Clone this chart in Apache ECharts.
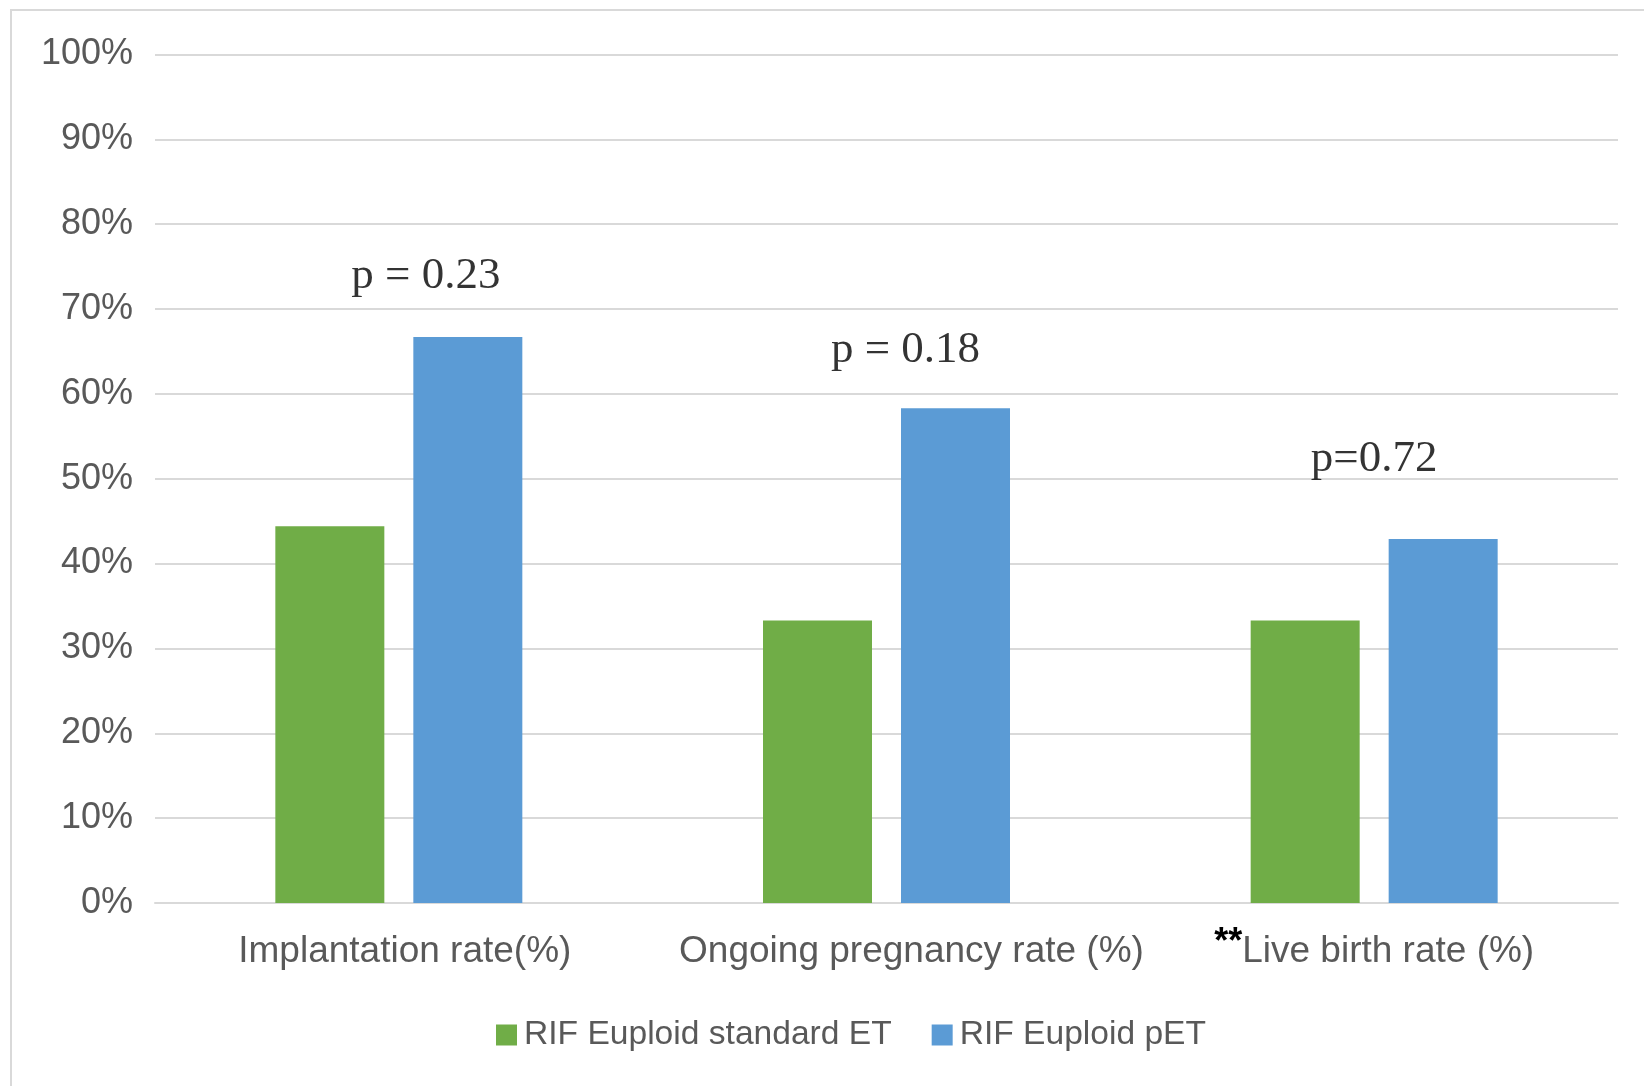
<!DOCTYPE html>
<html>
<head>
<meta charset="utf-8">
<script src="https://cdn.jsdelivr.net/npm/echarts@6/dist/echarts.min.js"></script>
<style>
html,body{margin:0;padding:0;background:#fff;}
#main{width:1644px;height:1086px;}
</style>
</head>
<body>
<div id="main"></div>
<script>
// ---- data ----
var categories = ['Implantation rate(%)', 'Ongoing pregnancy rate (%)', 'Live birth rate (%)'];
var categoryPrefix = ['', '', '**'];
var seriesNames = ['RIF Euploid standard ET', 'RIF Euploid pET'];
var standardET = [44.4, 33.3, 33.3];
var pET = [66.7, 58.3, 42.9];
var pLabels = ['p = 0.23', 'p = 0.18', 'p=0.72'];
var pLabelLevel = [73.85, 65.15, 52.3];
var yTicks = [0, 10, 20, 30, 40, 50, 60, 70, 80, 90, 100];

var sans = 'Liberation Sans, Arial, sans-serif';
var serif = 'Liberation Serif, Times New Roman, serif';
var pOffsets = [27, 19, 0];
var catShift = [12, 50, 0]; // label nudges (px) as in the original layout

var chart = echarts.init(document.getElementById('main'));
var option = {
  backgroundColor: '#ffffff',
  animation: false,
  graphic: [{
    type: 'rect',
    shape: { x: 11, y: 10, width: 1700, height: 1200 },
    style: { fill: 'none', stroke: '#d9d9d9', lineWidth: 2 },
    silent: true,
    z: -10
  }],
  grid: { left: 155, right: 26, top: 54.4, bottom: 183, containLabel: false },
  legend: {
    data: seriesNames,
    left: 491,
    top: 1013,
    itemWidth: 21,
    itemHeight: 21,
    itemGap: 40,
    icon: 'rect',
    textStyle: { color: '#595959', fontSize: 33.6, fontFamily: sans, padding: [0, 0, 0, 2] }
  },
  xAxis: {
    type: 'category',
    data: categories.map(function (c, i) {
      var txt = categoryPrefix[i] ? '{sup|' + categoryPrefix[i] + '}{lbl|' + c + '}' : '{lbl|' + c + '}';
      return { value: txt, textStyle: { padding: [0, 0, 0, catShift[i]] } };
    }),
    axisLine: { show: true, lineStyle: { color: '#d9d9d9', width: 2 } },
    axisTick: { show: false },
    axisLabel: {
      margin: 29,
      interval: 0,
      rich: {
        lbl: { color: '#595959', fontSize: 37, fontFamily: sans, lineHeight: 40 },
        sup: { color: '#000000', fontSize: 36, fontFamily: sans, fontWeight: 'bold', lineHeight: 40, padding: [0, 0, 18, 0] }
      }
    }
  },
  yAxis: {
    type: 'value',
    min: yTicks[0],
    max: yTicks[yTicks.length - 1],
    interval: 10,
    axisLine: { show: false },
    axisTick: { show: false },
    axisLabel: { formatter: '{value}%', color: '#595959', fontSize: 36, fontFamily: sans, margin: 22 },
    splitLine: { lineStyle: { color: '#d9d9d9', width: 2 } }
  },
  series: [
    {
      name: seriesNames[0],
      type: 'bar',
      data: standardET,
      barWidth: 109,
      barGap: '26.6%',
      itemStyle: { color: '#70AD47' }
    },
    {
      name: seriesNames[1],
      type: 'bar',
      data: pET,
      barWidth: 109,
      itemStyle: { color: '#5B9BD5' }
    },
    {
      name: 'p',
      type: 'scatter',
      symbolSize: 0,
      silent: true,
      data: pLabels.map(function (t, i) {
        return {
          value: [i, pLabelLevel[i]],
          label: {
            show: true,
            formatter: t,
            position: 'inside',
            offset: [pOffsets[i], 0],
            color: '#000000',
            fontSize: 45,
            fontFamily: serif
          }
        };
      })
    }
  ]
};
chart.setOption(option);
</script>
</body>
</html>
